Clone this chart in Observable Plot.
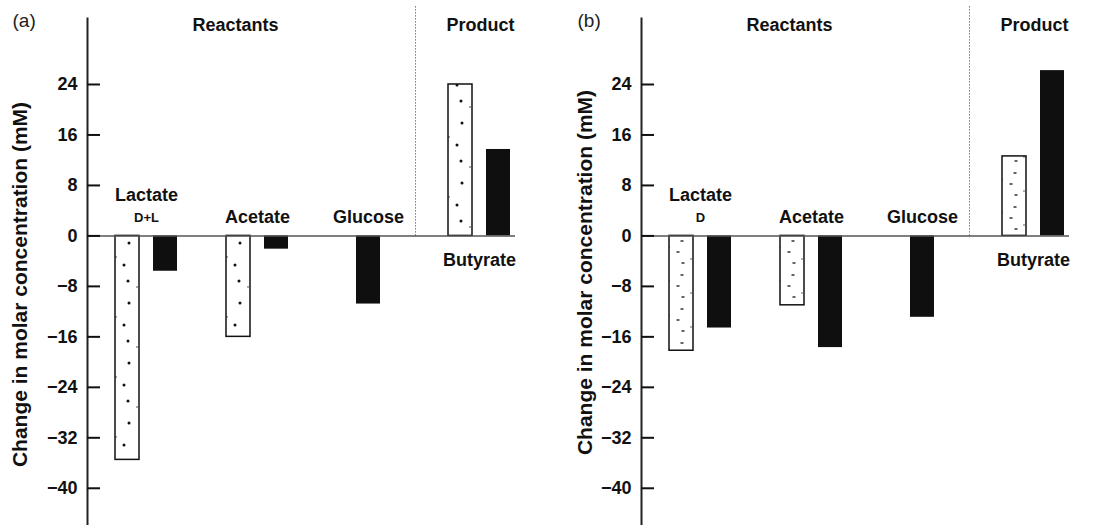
<!DOCTYPE html>
<html>
<head>
<meta charset="utf-8">
<script src="https://cdn.jsdelivr.net/npm/d3@7"></script>
<script src="https://cdn.jsdelivr.net/npm/@observablehq/plot@0.6"></script>
<style>
  html, body { margin: 0; padding: 0; background: #fff; }
  #wrap { display: flex; width: 1100px; height: 525px; }
</style>
</head>
<body>
<div id="wrap"></div>
<script>
// ---- data ----
const categories = ["Lactate", "Acetate", "Glucose", "Butyrate"];
const groups = ["Reactants", "Reactants", "Reactants", "Product"];
const subLabelsA = ["D+L", "", "", ""];
const subLabelsB = ["D", "", "", ""];
const openA  = [-35.5, -16.0, null, 24.0];
const blackA = [-5.6, -2.1, -10.8, 13.7];
const openB  = [-18.2, -11.0, null, 12.6];
const blackB = [-14.6, -17.7, -12.9, 26.2];
const yTicks = [24, 16, 8, 0, -8, -16, -24, -32, -40];
const yDomain = [-45.9, 34.46];
const panelLetters = ["(a)", "(b)"];
const yLabel = "Change in molar concentration (mM)";

function panel(idx, openVals, blackVals, subLabels, opts) {
  const rows = categories.map((c, i) => ({cat: c, group: groups[i], open: openVals[i], black: blackVals[i], sub: subLabels[i]}));
  const openRows = rows.filter(d => d.open != null);
  const pairedBlack = rows.filter(d => d.open != null);
  const soloBlack = rows.filter(d => d.open == null);
  const pid = "pat" + idx;
  const reactantRows = rows.filter(d => d.group === "Reactants");
  const productRows = rows.filter(d => d.group === "Product");
  const txt = {fontWeight: "bold", fill: "#111"};
  const frameW = 428;

  const svg = Plot.plot({
    width: 550,
    height: 525,
    marginLeft: opts.ml,
    marginRight: 550 - opts.ml - frameW,
    marginTop: 18,
    marginBottom: 0,
    style: {fontFamily: "'Liberation Sans', Arial, sans-serif", background: "#fff", overflow: "visible"},
    x: {domain: categories, paddingInner: 0.4414, paddingOuter: 0.1486, align: 0.86, axis: null},
    y: {domain: yDomain, axis: null},
    marks: [
      // separator between reactants and product
      Plot.ruleX(["Butyrate"], {x: d => d, y1: 0, y2: yDomain[1] + 2, dx: -64, stroke: "#333", strokeWidth: 1, strokeDasharray: "1,2"}),
      // bars
      Plot.barY(openRows, {x: "cat", y: "open", insetRight: 38, fill: `url(#${pid})`, stroke: "#111", strokeWidth: 1.5}),
      Plot.barY(pairedBlack, {x: "cat", y: "black", insetLeft: 38, fill: "#0f0f0f"}),
      Plot.barY(soloBlack, {x: "cat", y: "black", insetLeft: 19, insetRight: 19, fill: "#0f0f0f"}),
      // zero line
      Plot.ruleY([0], {stroke: "#555", strokeWidth: 1.5}),
      // axis line and labels
      Plot.frame({anchor: "left", stroke: "#222", strokeWidth: 2}),
      Plot.axisY(yTicks, {anchor: "left", tickSize: 0, tickPadding: 10, fontSize: 18, fontWeight: "bold", fill: "#111", label: null}),
      // category labels
      Plot.text(reactantRows.filter(d => d.sub), {x: "cat", y: 0, text: "cat", dy: -41, fontSize: 18, ...txt}),
      Plot.text(reactantRows.filter(d => !d.sub), {x: "cat", y: 0, text: "cat", dy: -19, fontSize: 18, ...txt}),
      Plot.text(reactantRows.filter(d => d.sub), {x: "cat", y: 0, text: "sub", dy: -18, fontSize: 13, ...txt}),
      Plot.text(productRows, {x: "cat", y: 0, text: "cat", dy: 24, fontSize: 18, ...txt}),
      // headers
      Plot.text(["Reactants"], {x: ["Acetate"], text: d => d, frameAnchor: "top", lineAnchor: "middle", dx: -22, dy: 7, fontSize: 18, ...txt}),
      Plot.text(["Product"], {x: ["Butyrate"], text: d => d, frameAnchor: "top", lineAnchor: "middle", dx: 1, dy: 7, fontSize: 18, ...txt}),
      // panel letter
      Plot.text([panelLetters[idx]], {text: d => d, frameAnchor: "top-left", textAnchor: "start", lineAnchor: "middle", dx: opts.letterX - opts.ml, dy: 2, fontSize: 19, fill: "#222"}),
      // y label
      Plot.text([yLabel], {text: d => d, frameAnchor: "left", textAnchor: "middle", lineAnchor: "middle", rotate: -90, dx: opts.labelX - opts.ml, dy: opts.labelDy, fontSize: 21, ...txt}),
      // inward tick marks, drawn last so nothing covers them
      Plot.tickY(yTicks, {y: d => d, insetRight: frameW - 13, stroke: "#111", strokeWidth: 2})
    ]
  });

  // texture pattern for open bars
  const xs = svg.scale("x");
  const x0 = xs.apply(categories[0]);
  const step = xs.apply(categories[1]) - x0;
  const ns = "http://www.w3.org/2000/svg";
  const defs = document.createElementNS(ns, "defs");
  const pat = document.createElementNS(ns, "pattern");
  const ph = idx === 0 ? 60 : 34;
  pat.setAttribute("id", pid);
  pat.setAttribute("patternUnits", "userSpaceOnUse");
  pat.setAttribute("x", x0);
  pat.setAttribute("y", 235);
  pat.setAttribute("width", step);
  pat.setAttribute("height", ph);
  const bg = document.createElementNS(ns, "rect");
  bg.setAttribute("width", step); bg.setAttribute("height", ph); bg.setAttribute("fill", "#fff");
  pat.appendChild(bg);
  const pts = idx === 0
    ? [[14, 8], [9, 30], [13, 46], [1, 22], [22, 52]]
    : [[13, 6], [9, 17], [14, 28], [1, 12], [23, 24]];
  pts.forEach(([px, py]) => {
    const edge = px < 3 || px > 21;
    if (idx === 0) {
      const c = document.createElementNS(ns, "circle");
      c.setAttribute("cx", px); c.setAttribute("cy", py); c.setAttribute("r", edge ? 0.7 : 1.5);
      c.setAttribute("fill", "#111");
      pat.appendChild(c);
    } else {
      const r = document.createElementNS(ns, "rect");
      r.setAttribute("x", px - 1.5); r.setAttribute("y", py - 0.7);
      r.setAttribute("width", edge ? 1 : 3); r.setAttribute("height", 1.4);
      r.setAttribute("fill", "#222");
      pat.appendChild(r);
    }
  });
  defs.appendChild(pat);
  svg.insertBefore(defs, svg.firstChild);
  return svg;
}

const wrap = document.getElementById("wrap");
wrap.appendChild(panel(0, openA, blackA, subLabelsA, {ml: 87, letterX: 12, labelX: 20, labelDy: 12.5}));
wrap.appendChild(panel(1, openB, blackB, subLabelsB, {ml: 91, letterX: 27, labelX: 35, labelDy: 0.5}));
</script>
</body>
</html>
